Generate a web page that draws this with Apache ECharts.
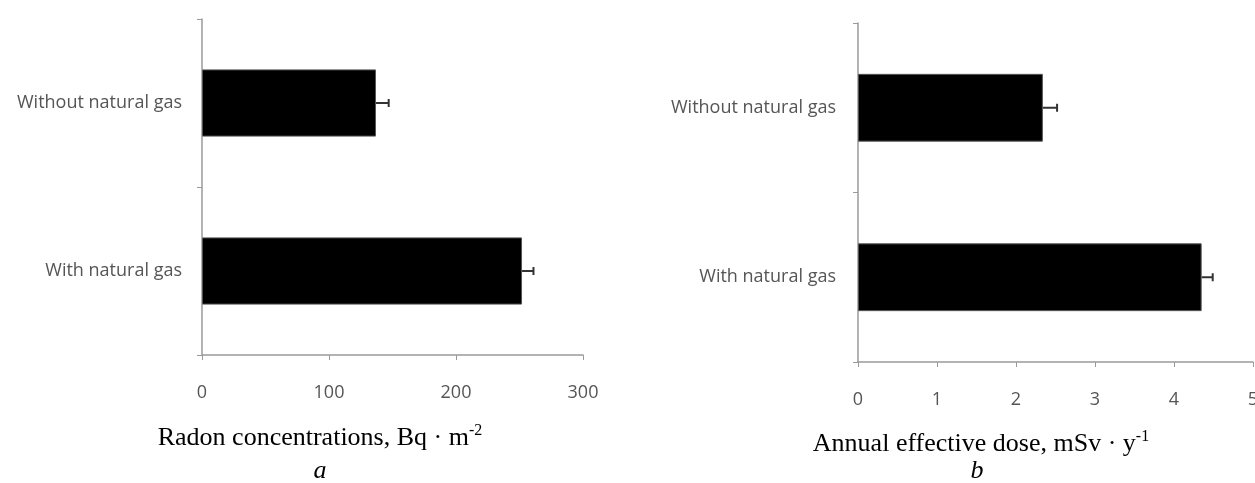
<!DOCTYPE html>
<html>
<head>
<meta charset="utf-8">
<script src="https://cdn.jsdelivr.net/npm/echarts@6/dist/echarts.min.js"></script>
<style>
html,body{margin:0;padding:0;background:#fff;}
#chart{width:1255px;height:483px;}
</style>
</head>
<body>
<div id="chart"></div>
<script>
// Data
const categories = ['With natural gas', 'Without natural gas'];
const radonValues = [252, 137];
const radonErrors = [9, 10];
const doseValues = [4.35, 2.34];
const doseErrors = [0.14, 0.18];
const radonTicks = [0, 100, 200, 300];
const doseTicks = [0, 1, 2, 3, 4, 5];

const chart = echarts.init(document.getElementById('chart'), null, {renderer: 'canvas'});

const labelFont = '"Open Sans", "Noto Sans", sans-serif';
const axisGray = '#9a9a9a';
const textGray = '#555';

function errRender(params, api) {
  const v = api.value(0), c = api.value(1), e = api.value(2);
  const p0 = api.coord([v, c]);
  const p1 = api.coord([v + e, c]);
  const h = 8;
  return {
    type: 'group',
    children: [
      {type: 'line', shape: {x1: p0[0], y1: p0[1], x2: p1[0], y2: p1[1]}, style: {stroke: '#333', lineWidth: 2}},
      {type: 'line', shape: {x1: p1[0], y1: p1[1] - h / 2, x2: p1[0], y2: p1[1] + h / 2}, style: {stroke: '#333', lineWidth: 2}}
    ]
  };
}

function xAxisCfg(gridIndex, ticks) {
  return {
    type: 'value', gridIndex: gridIndex,
    min: ticks[0], max: ticks[ticks.length - 1], interval: ticks[1] - ticks[0],
    splitLine: {show: false},
    axisLine: {show: true, lineStyle: {color: axisGray, width: 1.5}},
    axisTick: {show: true, length: 5, lineStyle: {color: axisGray}},
    axisLabel: {color: textGray, fontFamily: labelFont, fontSize: 18, margin: 29}
  };
}
function yAxisCfg(gridIndex, margin) {
  return {
    type: 'category', gridIndex: gridIndex, data: categories,
    axisLine: {show: true, lineStyle: {color: axisGray, width: 1.5}},
    axisTick: {show: true, length: 5, lineStyle: {color: axisGray}},
    axisLabel: {color: textGray, fontFamily: labelFont, fontSize: 18, margin: margin}
  };
}

const serifRich = {
  m: {fontFamily: '"Liberation Serif", "Times New Roman", serif', fontSize: 26, color: '#000', verticalAlign: 'bottom'},
  s: {fontFamily: '"Liberation Serif", "Times New Roman", serif', fontSize: 16, color: '#000', verticalAlign: 'bottom', padding: [0, 0, 12, 0]}
};

const option = {
  animation: false,
  backgroundColor: '#fff',
  grid: [
    {left: 202, top: 19, width: 381, height: 336, outerBoundsMode: 'none', containLabel: false},
    {left: 858, top: 23, width: 395, height: 339, outerBoundsMode: 'none', containLabel: false}
  ],
  xAxis: [xAxisCfg(0, radonTicks), xAxisCfg(1, doseTicks)],
  yAxis: [yAxisCfg(0, 20), yAxisCfg(1, 22)],
  series: [
    {type: 'bar', xAxisIndex: 0, yAxisIndex: 0, data: radonValues, barWidth: '40%',
      itemStyle: {color: '#000', borderColor: '#555', borderWidth: 1}},
    {type: 'custom', xAxisIndex: 0, yAxisIndex: 0, renderItem: errRender,
      data: radonValues.map((v, i) => [v, i, radonErrors[i]]), z: 5},
    {type: 'bar', xAxisIndex: 1, yAxisIndex: 1, data: doseValues, barWidth: '40%',
      itemStyle: {color: '#000', borderColor: '#555', borderWidth: 1}},
    {type: 'custom', xAxisIndex: 1, yAxisIndex: 1, renderItem: errRender,
      data: doseValues.map((v, i) => [v, i, doseErrors[i]]), z: 5}
  ],
  graphic: [
    {type: 'text', x: 320, y: 451, style: {text: '{m|Radon concentrations, Bq · m}{s|-2}', rich: serifRich, align: 'center', verticalAlign: 'bottom'}},
    {type: 'text', x: 320, y: 471, style: {text: 'a', font: 'italic 26px "Liberation Serif", serif', fill: '#000', align: 'center', verticalAlign: 'middle'}},
    {type: 'text', x: 981, y: 457, style: {text: '{m|Annual effective dose, mSv · y}{s|-1}', rich: serifRich, align: 'center', verticalAlign: 'bottom'}},
    {type: 'text', x: 977, y: 471, style: {text: 'b', font: 'italic 26px "Liberation Serif", serif', fill: '#000', align: 'center', verticalAlign: 'middle'}}
  ]
};
chart.setOption(option);
</script>
</body>
</html>
